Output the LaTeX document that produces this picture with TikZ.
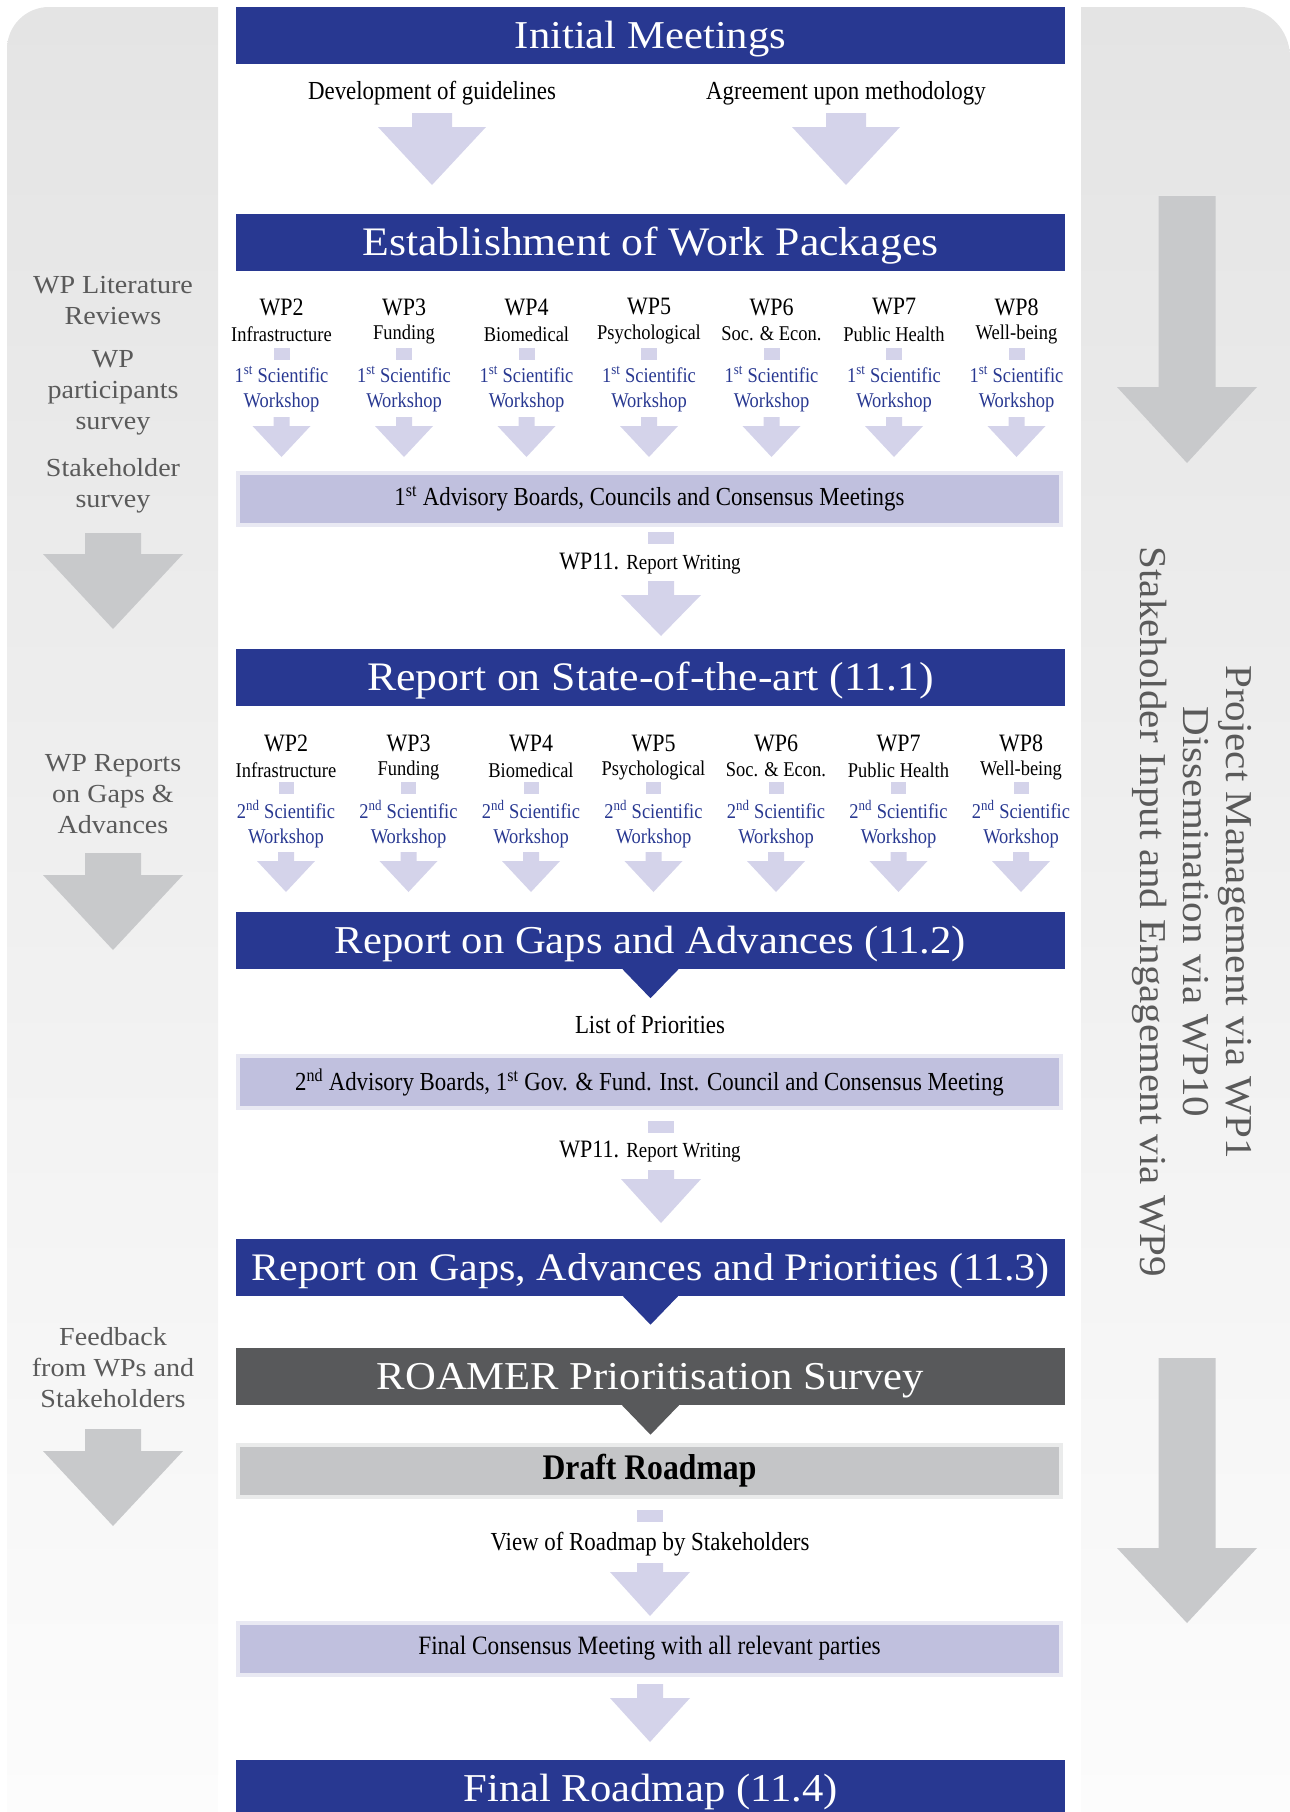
\documentclass[tikz,border=0pt]{standalone}
\usepackage{fontspec}
\setmainfont{Liberation Serif}[FakeStretch=1.08]
\newfontfamily\condfont{Liberation Serif}[FakeStretch=0.88]
\usetikzlibrary{calc}

\definecolor{navy}{RGB}{40,56,145}
\definecolor{lav}{RGB}{212,211,234}
\definecolor{lavbar}{RGB}{192,192,222}
\definecolor{slate}{RGB}{88,89,91}
\definecolor{draftgrey}{RGB}{196,197,199}
\definecolor{biggrey}{RGB}{200,201,203}
\definecolor{paneltop}{RGB}{228,228,228}
\definecolor{panelbot}{RGB}{252,252,252}
\definecolor{sidetext}{RGB}{90,90,90}

\tikzset{
	banner/.style={fill=#1, text=white, minimum width=829pt, minimum height=57pt, inner sep=0pt, text height=26pt, text depth=0pt, font=\fontsize{39.5}{44}\selectfont},
	bar/.style={fill=#1, preaction={draw=#1!35, line width=8pt}, minimum width=819pt, minimum height=48pt, inner sep=0pt, font=\condfont\fontsize{26}{30}\selectfont},
	side/.style={text=sidetext, align=center, font=\fontsize{26}{31}\selectfont},
	txt/.style={font=\condfont\fontsize{26}{30}\selectfont},
	wp/.style={font=\condfont\fontsize{25}{28}\selectfont},
	sub/.style={font=\condfont\fontsize{21}{24}\selectfont},
	ws/.style={text=navy, align=center, font=\condfont\fontsize{21}{25}\selectfont},
	sq/.style={fill=lav, minimum width=#1, minimum height=12pt, inner sep=0pt},
	fat/.style n args={3}{to path={let \p1=(\tikztostart), \p2=(\tikztotarget) in
		(\x1-#1,\y1) -- (\x1+#1,\y1) -- (\x1+#1,\y2+#3) -- (\x1+#2,\y2+#3)
		-- (\x2,\y2) -- (\x1-#2,\y2+#3) -- (\x1-#1,\y2+#3) -- cycle}},
}

\begin{document}
\begin{tikzpicture}[x=1pt, y=-1pt]
	\useasboundingbox (0,0) rectangle (1290,1812);

	% side panels
	\begin{scope}
		\clip[rounded corners=42pt] (7,7) rectangle (400,2000);
		\shade[top color=paneltop, bottom color=panelbot] (7,7) rectangle (218,1812);
	\end{scope}
	\begin{scope}
		\clip[rounded corners=50pt] (900,7) rectangle (1290,2000);
		\shade[top color=paneltop, bottom color=panelbot] (1081,7) rectangle (1290,1812);
	\end{scope}

	\node[side] (lit) at (113,301) {WP Literature\\Reviews};
	\node[side] (part) at (113,393) {WP\\participants\\survey};
	\node[side] (stake) at (113,486) {Stakeholder\\survey};
	\node[side] (gaps) at (113,794) {WP Reports\\on Gaps \&\\Advances};
	\node[side] (feed) at (113,1368) {Feedback\\from WPs and\\Stakeholders};
	\node[side, rotate=-90, font=\fontsize{38}{43}\selectfont] (wps) at (1192,912)
		{Project Management via WP1\\Dissemination via WP10\\Stakeholder Input and Engagement via WP9};

	\coordinate (la1) at (113,533);  \coordinate (lb1) at (113,629);
	\coordinate (la2) at (113,853);  \coordinate (lb2) at (113,950);
	\coordinate (la3) at (113,1429); \coordinate (lb3) at (113,1526);
	\coordinate (ra1) at (1187,196); \coordinate (rb1) at (1187,463);
	\coordinate (ra2) at (1187,1358); \coordinate (rb2) at (1187,1623);
	\fill[biggrey, fat={28pt}{70pt}{75pt}] (la1) to (lb1);
	\fill[biggrey, fat={28pt}{70pt}{75pt}] (la2) to (lb2);
	\fill[biggrey, fat={28pt}{70pt}{75pt}] (la3) to (lb3);
	\fill[biggrey, fat={28.5pt}{70pt}{76pt}] (ra1) to (rb1);
	\fill[biggrey, fat={28.5pt}{70pt}{75pt}] (ra2) to (rb2);

	% main flow
	\node[banner=navy] (b1) at (650.5,35.5) {Initial Meetings};
	\node[txt] (dev) at (432,93) {Development of guidelines};
	\node[txt] (agr) at (846,93) {Agreement upon methodology};
	\coordinate (da) at (432,113); \coordinate (db) at (432,185);
	\coordinate (aa) at (846,113); \coordinate (ab) at (846,185);
	\fill[lav, fat={20pt}{54pt}{58pt}] (da) to (db);
	\fill[lav, fat={20pt}{54pt}{58pt}] (aa) to (ab);

	\node[banner=navy, font=\fontsize{40.5}{44}\selectfont] (b2) at (650.5,242) {Establishment of Work Packages};
	\foreach \k/\s [count=\i from 0] in {2/Infrastructure, 3/Funding, 4/Biomedical, 5/Psychological, 6/Soc. \& Econ., 7/Public Health, 8/Well-being} {
		\node[wp] (wpa\k) at (281.5+122.5*\i,307) {WP\k};
		\node[sub] (suba\k) at (281.5+122.5*\i,334) {\s};
		\node[sq=16pt] (sqa\k) at (281.5+122.5*\i,354) {};
		\node[ws] (wsa\k) at (281.5+122.5*\i,389) {1\textsuperscript{st} Scientific\\Workshop};
		\coordinate (ta\k) at (281.5+122.5*\i,417);
		\coordinate (ba\k) at (281.5+122.5*\i,457);
		\fill[lav, fat={8pt}{29pt}{31pt}] (ta\k) to (ba\k);
	}
	\node[bar=lavbar] (adv1) at (649.5,498.5) {1\textsuperscript{st} Advisory Boards, Councils and Consensus Meetings};
	\node[sq=26pt] (sq1) at (661,538) {};
	\node[txt, font=\condfont\fontsize{25}{30}\selectfont] (rw1) at (650,564) {WP11. {\fontsize{21.5}{24}\selectfont Report Writing}};
	\coordinate (rwa1) at (661,581); \coordinate (rwb1) at (661,636);
	\fill[lav, fat={13pt}{40pt}{41pt}] (rwa1) to (rwb1);

	\node[banner=navy, font=\fontsize{40.5}{44}\selectfont] (b3) at (650.5,677) {Report on State-of-the-art (11.1)};
	\foreach \k/\s [count=\i from 0] in {2/Infrastructure, 3/Funding, 4/Biomedical, 5/Psychological, 6/Soc. \& Econ., 7/Public Health, 8/Well-being} {
		\node[wp] (wpb\k) at (286+122.5*\i,743) {WP\k};
		\node[sub] (subb\k) at (286+122.5*\i,770) {\s};
		\node[sq=15pt] (sqb\k) at (286+122.5*\i,788) {};
		\node[ws] (wsb\k) at (286+122.5*\i,824) {2\textsuperscript{nd} Scientific\\Workshop};
		\coordinate (tb\k) at (286+122.5*\i,852);
		\coordinate (bb\k) at (286+122.5*\i,892);
		\fill[lav, fat={8pt}{29pt}{31pt}] (tb\k) to (bb\k);
	}

	\node[banner=navy] (b4) at (650.5,940.5) {Report on Gaps and Advances (11.2)};
	\fill[navy] ($(b4.south)+(-28,0)$) -- ($(b4.south)+(28,0)$) -- ($(b4.south)+(0,29)$) -- cycle;
	\node[txt] (lop) at (650,1024) {List of Priorities};
	\node[bar=lavbar] (adv2) at (649.5,1082) {2\textsuperscript{nd} Advisory Boards, 1\textsuperscript{st} Gov. \& Fund. Inst. Council and Consensus Meeting};
	\node[sq=26pt] (sq2) at (661,1126.5) {};
	\node[txt, font=\condfont\fontsize{25}{30}\selectfont] (rw2) at (650,1152) {WP11. {\fontsize{21.5}{24}\selectfont Report Writing}};
	\coordinate (rwa2) at (661,1170); \coordinate (rwb2) at (661,1223);
	\fill[lav, fat={13pt}{40pt}{44pt}] (rwa2) to (rwb2);

	\node[banner=navy, font=\fontsize{39}{44}\selectfont] (b5) at (650.5,1267) {Report on Gaps, Advances and Priorities (11.3)};
	\fill[navy] ($(b5.south)+(-28,0)$) -- ($(b5.south)+(28,0)$) -- ($(b5.south)+(0,29)$) -- cycle;

	\node[banner=slate] (b6) at (650.5,1376) {ROAMER Prioritisation Survey};
	\fill[slate] ($(b6.south)+(-29,0)$) -- ($(b6.south)+(29,0)$) -- ($(b6.south)+(0,30)$) -- cycle;
	\node[bar=draftgrey, font=\condfont\bfseries\fontsize{36}{40}\selectfont] (draft) at (649.5,1471) {Draft Roadmap};
	\node[sq=26pt] (sq3) at (650,1516) {};
	\node[txt] (view) at (650,1544) {View of Roadmap by Stakeholders};
	\coordinate (va) at (650,1563); \coordinate (vb) at (650,1616);
	\fill[lav, fat={13pt}{40pt}{44pt}] (va) to (vb);
	\node[bar=lavbar, font=\condfont\fontsize{26.5}{30}\selectfont] (fin) at (649.5,1648.5) {Final Consensus Meeting with all relevant parties};
	\coordinate (fa) at (650,1684); \coordinate (fb) at (650,1742);
	\fill[lav, fat={13pt}{40pt}{44pt}] (fa) to (fb);
	\node[banner=navy] (b7) at (650.5,1788.5) {Final Roadmap (11.4)};
\end{tikzpicture}
\end{document}
